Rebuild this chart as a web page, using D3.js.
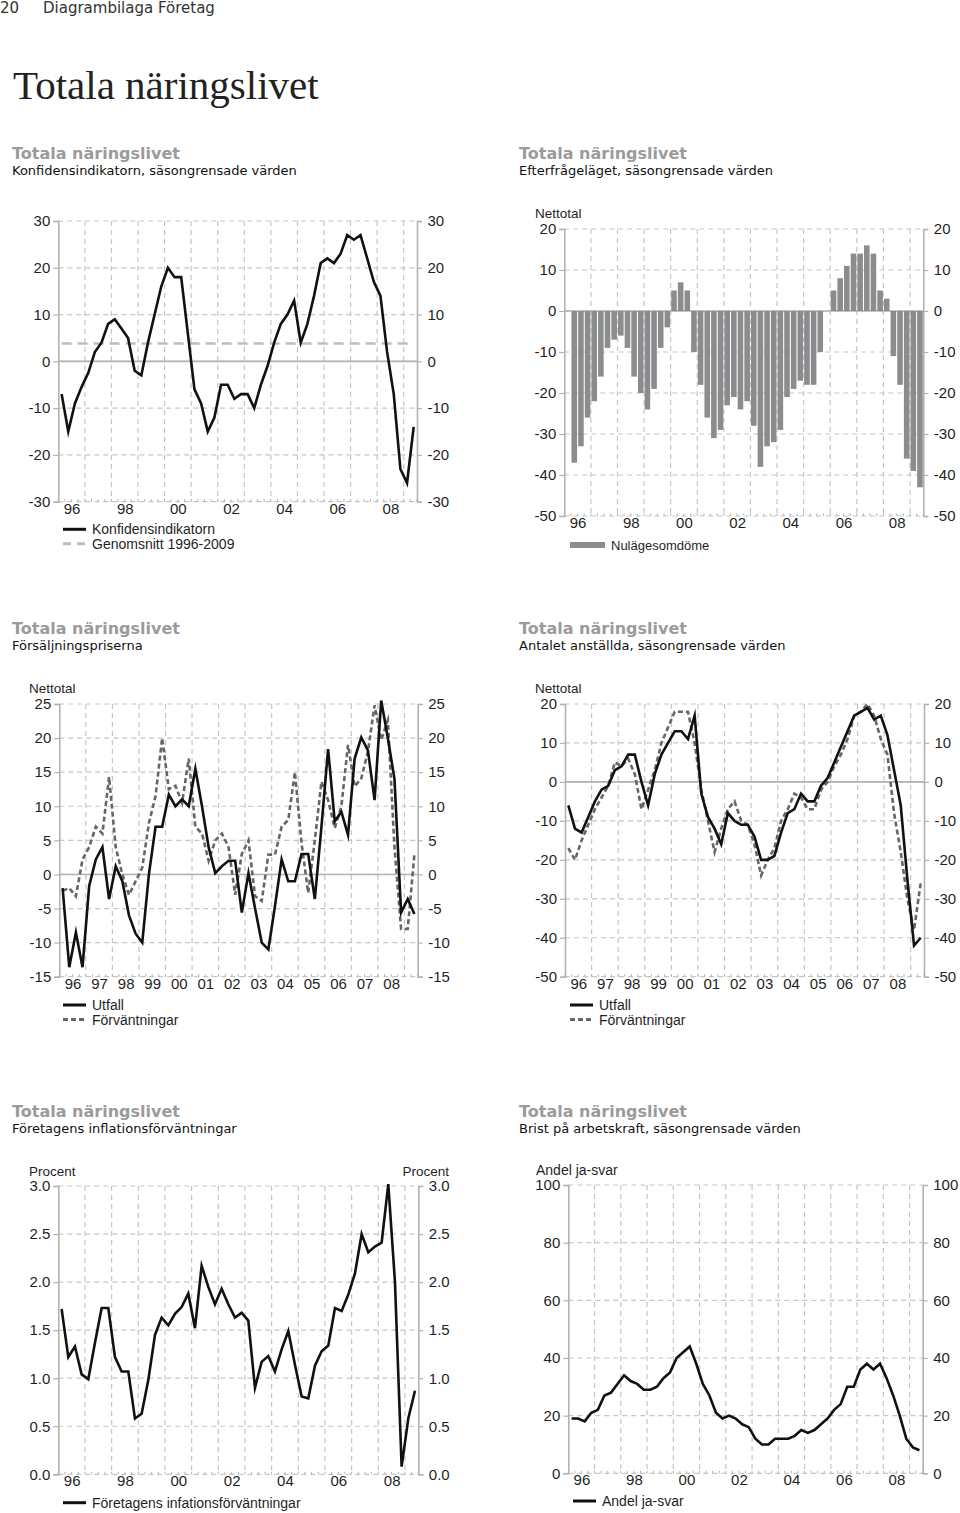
<!DOCTYPE html>
<html><head><meta charset="utf-8">
<script src="https://cdn.jsdelivr.net/npm/d3@7"></script>
<style>body{margin:0;background:#fff}svg{display:block}</style>
</head><body>
<svg id="c" width="960" height="1513"></svg>
<script>
// ---------- DATA ----------
const years = [1996,1997,1998,1999,2000,2001,2002,2003,2004,2005,2006,2007,2008,2009];
const quarterNames = ["Q1","Q2","Q3","Q4"];
const quarters = years.flatMap(y => quarterNames.map(q => y + q)).slice(0, 54); // 1996Q1 .. 2009Q2

const yearLabelsEven = ["96","98","00","02","04","06","08"];
const yearLabelsAll  = ["96","97","98","99","00","01","02","03","04","05","06","07","08"];

const ticksKonf = [-30,-20,-10,0,10,20,30];
const ticksEfter = [-50,-40,-30,-20,-10,0,10,20];
const ticksPris = [-15,-10,-5,0,5,10,15,20,25];
const ticksAnst = [-50,-40,-30,-20,-10,0,10,20];
const ticksInfl = [0,0.5,1,1.5,2,2.5,3];
const ticksBrist = [0,20,40,60,80,100];

const konfidens = [-7,-15,-9,-5.5,-2.5,2,4,8,9,7,5,-2,-3,4,10,16,20,18,18,6,-6,-9,-15,-12,-5,-5,-8,-7,-7,-10,-5,-1,4,8,10,13,4,8,14,21,22,21,23,27,26,27,22,17,14,2,-7,-23,-26,-14];
const genomsnitt = 3.8;

const nulage = [null,-37,-33,-26,-22,-16,-9,-7,-6,-9,-16,-20,-24,-19,-9,-4,5,7,5,-10,-18,-26,-31,-29,-23,-21,-24,-22,-28,-38,-33,-32,-29,-21,-19,-17,-18,-18,-10,0,5,8,11,14,14,16,14,5,3,-11,-18,-36,-39,-43];

const prisUtfall = [-2,-13.6,-8.5,-13.6,-1.7,2.2,4,-3.6,1.2,-1,-6,-8.7,-10,0,7,7,11.7,10,11,10,15.5,10,4,0.2,1.2,2,2,-5.6,0.2,-5,-10,-11,-4.6,2.2,-1,-1,3,3,-3.6,7,18.4,7.8,9.2,5.8,17,20.1,18.2,10.9,25.5,20,14,-5.6,-3.6,-5.8];
const prisForv = [-2.4,-2,-3.2,2.2,4,7,6,14.3,4,0,-3,-1,1,7.5,11.5,20,12.5,13,10.5,17,7,6,2,5,6,4,-3,3,5,-3.2,-3.9,2.9,2.9,7,8,15,4.6,-2.7,5,13.6,10.9,6.8,10,19,12.9,14.1,18,24.8,19.7,22.6,4,-8,-8,2.9];

const anstUtfall = [-6,-12,-13,-9,-5,-2,-1,3,4,7,7,0,-6,2,7,10,13,13,11,17,-3,-9,-12,-16,-8,-10,-11,-11,-14,-20,-20,-19,-13,-8,-7,-3,-5,-5,-1,1,5,9,13,17,18,19,16,17,12,3,-6,-25,-42,-40];
const anstForv = [-17,-20,-15,-11,-7,-4,-1,5,4,6,2,-7,-2,3,10,14,18,18,18,10,-2,-10,-18,-12,-7,-5,-10,-11,-16,-24,-20,-17,-10,-7,-3,-4,-7,-7,-2,0,4,7,11,17,18,20,17,11,7,-8,-18,-30,-38,-26];

const inflation = [1.72,1.22,1.33,1.04,0.99,1.37,1.73,1.73,1.22,1.07,1.07,0.58,0.63,0.98,1.45,1.63,1.55,1.67,1.74,1.88,1.52,2.17,1.95,1.77,1.93,1.77,1.63,1.68,1.60,0.90,1.17,1.23,1.07,1.30,1.49,1.14,0.81,0.79,1.13,1.28,1.34,1.73,1.70,1.87,2.09,2.50,2.31,2.37,2.41,3.02,2.0,0.08,0.58,0.87];

const brist = [19,19,18,21,22,27,28,31,34,32,31,29,29,30,33,35,40,42,44,38,31,27,21,19,20,19,17,16,12,10,10,12,12,12,13,15,14,15,17,19,22,24,30,30,36,38,36,38,33,27,20,12,9,8];

// ---------- STYLE ----------
const GRID = "#c6c6c6", AXIS = "#b2b2b2", INK = "#1f1f1f";
const TICKFONT = "'Liberation Sans', Arial, sans-serif";
const SANS = "'DejaVu Sans', Verdana, sans-serif";

const svg = d3.select("#c");
svg.append("rect").attr("width",960).attr("height",1513).attr("fill","#fff");

// page header
svg.append("text").attr("x",0).attr("y",12.5).attr("font-family",SANS).attr("font-size",15).attr("fill","#333").text("20");
svg.append("text").attr("x",43).attr("y",12.5).attr("font-family",SANS).attr("font-size",15).attr("fill","#333").text("Diagrambilaga Företag");
svg.append("text").attr("x",13).attr("y",99).attr("font-family","'Liberation Serif','Times New Roman',serif")
  .attr("font-size",41).attr("fill","#222").text("Totala näringslivet");

function header(x, y, sub) {
  svg.append("text").attr("x",x).attr("y",y).attr("font-family",SANS).attr("font-weight","bold")
    .attr("font-size",16).attr("fill","#9b9b9b").text("Totala näringslivet");
  svg.append("text").attr("x",x).attr("y",y+16).attr("font-family",SANS)
    .attr("font-size",13).attr("fill","#111").text(sub);
}

function panel(cfg) {
  const g = svg.append("g");
  const x = d3.scaleLinear().domain([1996, 2009.5]).range([cfg.x0, cfg.x1]);
  const y = d3.scaleLinear().domain(cfg.domain).range([cfg.y1, cfg.y0]);
  const fmt = cfg.fmt || (d => d);
  // horizontal gridlines
  g.selectAll(".hg").data(cfg.ticks).join("line")
    .attr("x1",cfg.x0).attr("x2",cfg.x1).attr("y1",d=>y(d)).attr("y2",d=>y(d))
    .attr("stroke",GRID).attr("stroke-width",1.2).attr("stroke-dasharray","5,4");
  // vertical gridlines at year boundaries
  g.selectAll(".vg").data(years.slice(1)).join("line")
    .attr("x1",d=>x(d)).attr("x2",d=>x(d)).attr("y1",cfg.y0).attr("y2",cfg.y1)
    .attr("stroke",GRID).attr("stroke-width",1.2).attr("stroke-dasharray","5,4");
  // quarter minor ticks at bottom
  g.selectAll(".qt").data(d3.range(quarters.length+1)).join("line")
    .attr("x1",d=>x(1996+d/4)).attr("x2",d=>x(1996+d/4)).attr("y1",cfg.y1).attr("y2",cfg.y1-2.5)
    .attr("stroke",AXIS).attr("stroke-width",1);
  // zero line
  if (cfg.domain[0] < 0 && cfg.domain[1] > 0) {
    g.append("line").attr("x1",cfg.x0).attr("x2",cfg.x1).attr("y1",y(0)).attr("y2",y(0))
      .attr("stroke",AXIS).attr("stroke-width",1.6);
  }
  // y axes
  const la = d3.axisLeft(y).tickValues(cfg.ticks).tickSize(5).tickPadding(3).tickFormat(fmt);
  const ra = d3.axisRight(y).tickValues(cfg.ticks).tickSize(5).tickPadding(5.5).tickFormat(fmt);
  [[la,cfg.x0],[ra,cfg.x1]].forEach(([ax,px]) => {
    const a = g.append("g").attr("transform",`translate(${px},0)`).call(ax);
    a.select(".domain").attr("stroke",AXIS).attr("stroke-width",1.6);
    a.selectAll(".tick line").attr("stroke",AXIS).attr("stroke-width",1.2);
    a.selectAll("text").attr("font-family",TICKFONT).attr("font-size",15).attr("fill",INK);
  });
  // x axis labels (year centres)
  const labs = cfg.yearLabels;
  const labYear = l => { const n = +l; return (n < 50 ? 2000 + n : 1900 + n) + 0.5; };
  const xa = d3.axisBottom(x).tickValues(labs.map(labYear)).tickSize(0).tickPadding(1.5)
    .tickFormat(d => labs[labs.map(labYear).indexOf(d)]);
  const xg = g.append("g").attr("transform",`translate(0,${cfg.y1})`).call(xa);
  xg.select(".domain").remove();
  xg.selectAll("text").attr("font-family",TICKFONT).attr("font-size",15).attr("fill",INK);
  // unit labels
  (cfg.units || []).forEach(u => {
    g.append("text").attr("x",u.x).attr("y",u.y).attr("text-anchor",u.anchor||"start")
      .attr("font-family",TICKFONT).attr("font-size",u.size||13.5).attr("fill",INK).text(u.text);
  });
  return {g, x, y};
}

function drawLine(p, values, style) {
  const line = d3.line().defined(d => d != null)
    .x((d,i) => p.x(1996 + (i + 0.5) / 4)).y(d => p.y(d));
  p.g.append("path").datum(values).attr("d", line).attr("fill","none")
    .attr("stroke", style.color).attr("stroke-width", style.width || 2.6)
    .attr("stroke-dasharray", style.dash || null).attr("stroke-linejoin","miter").attr("stroke-miterlimit",6);
}

function legend(x, y, items, size) {
  items.forEach((it, k) => {
    const yy = y + k * 14.5;
    if (it.type === "rect") {
      svg.append("rect").attr("x",x).attr("y",yy-3).attr("width",35).attr("height",6).attr("fill",it.color);
      svg.append("text").attr("x",x+41).attr("y",yy+5).attr("font-family",TICKFONT).attr("font-size",size||14).attr("fill",INK).text(it.label);
    } else {
      svg.append("line").attr("x1",x).attr("x2",x+23).attr("y1",yy).attr("y2",yy)
        .attr("stroke",it.color).attr("stroke-width",3).attr("stroke-dasharray",it.dash||null);
      svg.append("text").attr("x",x+29).attr("y",yy+5).attr("font-family",TICKFONT).attr("font-size",size||14).attr("fill",INK).text(it.label);
    }
  });
}

const BLACK = "#111", DGRAY = "#666", LGRAY = "#bdbdbd", BAR = "#8b8c8e";

// ---------- Panel 1: Konfidensindikatorn ----------
header(12, 159, "Konfidensindikatorn, säsongrensade värden");
const p1 = panel({x0:58.3, x1:417, y0:221, y1:501.7, domain:[-30,30], ticks:ticksKonf, yearLabels:yearLabelsEven});
p1.g.append("line").attr("x1",p1.x(1996+0.5/4)).attr("x2",p1.x(1996+53.5/4))
  .attr("y1",p1.y(genomsnitt)).attr("y2",p1.y(genomsnitt))
  .attr("stroke",LGRAY).attr("stroke-width",2.6).attr("stroke-dasharray","10,6");
drawLine(p1, konfidens, {color:BLACK});
legend(63, 529.3, [{label:"Konfidensindikatorn", color:BLACK},{label:"Genomsnitt 1996-2009", color:LGRAY, dash:"8,6"}]);

// ---------- Panel 2: Efterfrågeläget ----------
header(519, 159, "Efterfrågeläget, säsongrensade värden");
const p2 = panel({x0:564.3, x1:923.3, y0:229, y1:516, domain:[-50,20], ticks:ticksEfter, yearLabels:yearLabelsEven,
  units:[{text:"Nettotal", x:535, y:218}]});
const band = d3.scaleBand().domain(quarters).range([564.3, 923.3]).paddingInner(0.16).paddingOuter(0.08);
p2.g.selectAll(".bar").data(nulage.map((v,i)=>({q:quarters[i], v})).filter(d => d.v != null)).join("rect")
  .attr("x", d => band(d.q)).attr("width", band.bandwidth())
  .attr("y", d => p2.y(Math.max(0, d.v))).attr("height", d => Math.abs(p2.y(d.v) - p2.y(0)))
  .attr("fill", BAR);
legend(570, 545, [{label:"Nulägesomdöme", color:BAR, type:"rect"}], 13);

// ---------- Panel 3: Försäljningspriserna ----------
header(12, 634, "Försäljningspriserna");
const p3 = panel({x0:59.3, x1:417.7, y0:704, y1:976.7, domain:[-15,25], ticks:ticksPris, yearLabels:yearLabelsAll,
  units:[{text:"Nettotal", x:29, y:693}]});
drawLine(p3, prisForv, {color:DGRAY, dash:"5,3"});
drawLine(p3, prisUtfall, {color:BLACK});
legend(63, 1005, [{label:"Utfall", color:BLACK},{label:"Förväntningar", color:DGRAY, dash:"5,3"}]);

// ---------- Panel 4: Antalet anställda ----------
header(519, 634, "Antalet anställda, säsongrensade värden");
const p4 = panel({x0:565, x1:924, y0:704, y1:976.7, domain:[-50,20], ticks:ticksAnst, yearLabels:yearLabelsAll,
  units:[{text:"Nettotal", x:535, y:693}]});
drawLine(p4, anstForv, {color:DGRAY, dash:"5,3"});
drawLine(p4, anstUtfall, {color:BLACK});
legend(570, 1005, [{label:"Utfall", color:BLACK},{label:"Förväntningar", color:DGRAY, dash:"5,3"}]);

// ---------- Panel 5: Inflationsförväntningar ----------
header(12, 1117, "Företagens inflationsförväntningar");
const p5 = panel({x0:58.3, x1:418.3, y0:1186, y1:1474.3, domain:[0,3], ticks:ticksInfl, yearLabels:yearLabelsEven,
  fmt:d3.format(".1f"),
  units:[{text:"Procent", x:29, y:1176},{text:"Procent", x:449, y:1176, anchor:"end"}]});
drawLine(p5, inflation, {color:BLACK});
legend(63, 1502.7, [{label:"Företagens infationsförväntningar", color:BLACK}]);

// ---------- Panel 6: Brist på arbetskraft ----------
header(519, 1117, "Brist på arbetskraft, säsongrensade värden");
const p6 = panel({x0:568.3, x1:922.7, y0:1185, y1:1473.3, domain:[0,100], ticks:ticksBrist, yearLabels:yearLabelsEven,
  units:[{text:"Andel ja-svar", x:536, y:1175, size:14}]});
drawLine(p6, brist, {color:BLACK});
legend(573, 1501, [{label:"Andel ja-svar", color:BLACK}]);
</script>
</body></html>
